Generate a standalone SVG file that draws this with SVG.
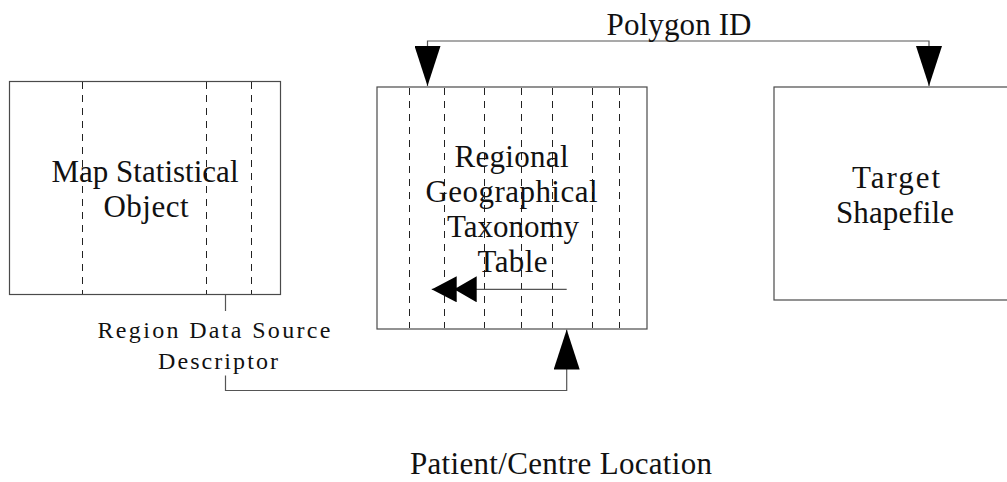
<svg xmlns="http://www.w3.org/2000/svg" width="1007" height="482" viewBox="0 0 1007 482">
  <style>
    .box { fill: #ffffff; stroke: #4a4a4a; stroke-width: 1.2; }
    .grid { stroke: #222222; stroke-width: 1; stroke-dasharray: 7 6; fill: none; }
    .wire { stroke: #555555; stroke-width: 1.2; fill: none; }
    .big { font-family: "Liberation Serif", "Times New Roman", serif; font-size: 31px; fill: #111111; text-anchor: middle; }
    .small { font-family: "Liberation Serif", "Times New Roman", serif; font-size: 24px; fill: #111111; text-anchor: middle; }
  </style>
  <defs>
    <marker id="arrow" viewBox="0 0 40 26" refX="40" refY="13" markerWidth="40" markerHeight="26" markerUnits="userSpaceOnUse" orient="auto">
      <path d="M0,0 L40,13 L0,26 Z" fill="#000000"/>
    </marker>
    <marker id="arrow2" viewBox="0 0 45 26" refX="45" refY="13" markerWidth="45" markerHeight="26" markerUnits="userSpaceOnUse" orient="auto">
      <path d="M45,13 L20,0 L20,26 Z M22.5,13 L0,0 L0,26 Z" fill="#000000"/>
    </marker>
  </defs>

  <rect width="1007" height="482" fill="#ffffff"/>

  <!-- Map Statistical Object -->
  <g id="map-statistical-object">
    <rect class="box" x="9.5" y="81.5" width="271" height="213"/>
    <path class="grid" d="M82.5,82 V294 M206.5,82 V294 M251.5,82 V294"/>
    <text class="big" x="145" y="182" textLength="187" lengthAdjust="spacing">Map Statistical</text>
    <text class="big" x="146" y="217" textLength="85" lengthAdjust="spacing">Object</text>
  </g>

  <!-- Regional Geographical Taxonomy Table -->
  <g id="taxonomy-table">
    <rect class="box" x="377" y="87" width="270" height="242"/>
    <path class="grid" d="M409.5,88 V328 M444.5,88 V328 M484.5,88 V328 M521.5,88 V328 M552.5,88 V328 M592.5,88 V328 M619.5,88 V328"/>
    <text class="big" x="511.5" y="166.5" textLength="114" lengthAdjust="spacing">Regional</text>
    <text class="big" x="511.5" y="201.5" textLength="172" lengthAdjust="spacing">Geographical</text>
    <text class="big" x="513" y="236.5" textLength="132" lengthAdjust="spacing">Taxonomy</text>
    <text class="big" x="512.5" y="271.5" textLength="70" lengthAdjust="spacing">Table</text>
    <path class="wire" d="M566.7,289.3 H431.7" marker-end="url(#arrow2)"/>
  </g>

  <!-- Target Shapefile -->
  <g id="target-shapefile">
    <rect class="box" x="774" y="87" width="242" height="213"/>
    <text class="big" x="896" y="188" textLength="88" lengthAdjust="spacing">Target</text>
    <text class="big" x="895" y="223" textLength="118" lengthAdjust="spacing">Shapefile</text>
  </g>

  <!-- Connectors -->
  <g id="connectors">
    <!-- Polygon ID link -->
    <path class="wire" d="M678,41 H427.5 V86" marker-end="url(#arrow)"/>
    <path class="wire" d="M678,41 H929 V86" marker-end="url(#arrow)"/>
    <text class="big" x="679" y="34.5" textLength="145" lengthAdjust="spacing">Polygon ID</text>

    <!-- Region Data Source Descriptor link -->
    <path class="wire" d="M225.5,295 V311"/>
    <path class="wire" d="M225.5,375.5 V390.5 H566.7 V329.5" marker-end="url(#arrow)"/>
    <text class="small" x="214" y="337.5" textLength="233" lengthAdjust="spacing">Region Data Source</text>
    <text class="small" x="218" y="369" textLength="120" lengthAdjust="spacing">Descriptor</text>
  </g>

  <!-- Caption -->
  <g id="caption">
    <text class="big" x="561" y="474" textLength="302" lengthAdjust="spacing">Patient/Centre Location</text>
  </g>
</svg>
